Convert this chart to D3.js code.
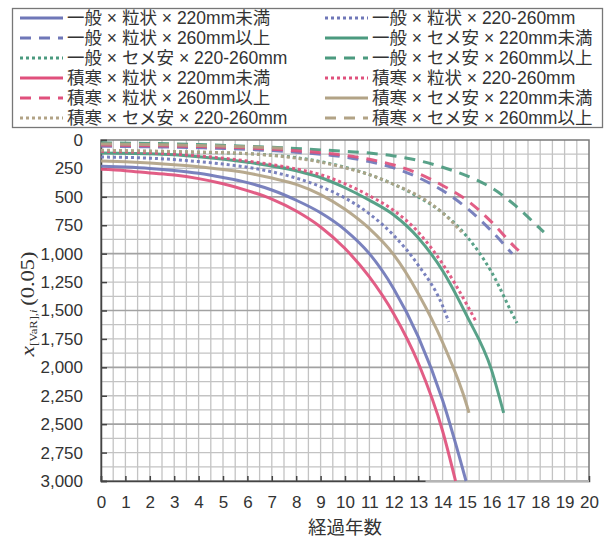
<!DOCTYPE html>
<html>
<head>
<meta charset="utf-8">
<script src="https://cdn.jsdelivr.net/npm/d3@7"></script>
<style>
  body { margin: 0; background: #fff; }
  svg { display: block; }
</style>
</head>
<body>
<svg id="chart" width="608" height="537"></svg>
<script>
// Elapsed years (x) and VaR values (y, drawn downward)
const yearTicks = d3.range(0, 21);
const valueTicks = d3.range(0, 3001, 250);

const seriesNames = [
  "一般×粒状×220mm未満", "一般×粒状×220-260mm",
  "一般×粒状×260mm以上", "一般×セメ安×220mm未満",
  "一般×セメ安×220-260mm", "一般×セメ安×260mm以上",
  "積寒×粒状×220mm未満", "積寒×粒状×220-260mm",
  "積寒×粒状×260mm以上", "積寒×セメ安×220mm未満",
  "積寒×セメ安×220-260mm", "積寒×セメ安×260mm以上"
];

// [year, value] pairs per series
const ippanRyu220 = [[0,230],[1,238],[2,250],[3,268],[4,293],[5,330],[6,375],[7,440],[8,530],[9,640],[10,790],[11,1000],[12,1310],[13,1730],[14,2290],[14.96,3000]];
const ippanRyu220to260 = [[0,150],[1,153],[2,160],[3,172],[4,190],[5,212],[6,240],[7,280],[8,335],[9,410],[10,510],[11,650],[12,840],[13,1100],[14,1460],[14.25,1600]];
const ippanRyu260 = [[0,55],[2,60],[4,68],[6,82],[8,108],[10,150],[11,190],[12,245],[13,330],[14,445],[15,600],[16,800],[16.85,1000]];
const ippanSeme220 = [[0,115],[2,122],[4,147],[6,195],[8,270],[9,330],[10,420],[11,530],[12,660],[13,860],[14,1150],[15,1550],[16,2020],[16.5,2400]];
const ippanSeme220to260 = [[0,95],[2,100],[4,108],[6,120],[7,133],[8,155],[9,190],[10,240],[11,305],[12,390],[13,500],[14,640],[15,850],[16,1160],[17,1590],[17.05,1610]];
const ippanSeme260 = [[0,25],[2,30],[4,40],[6,55],[8,75],[10,100],[11,115],[12,140],[13,180],[14,240],[15,315],[16,420],[17,580],[18,780],[18.15,810]];
const sekiRyu220 = [[0,258],[1,270],[2,290],[3,308],[4,340],[5,385],[6,445],[7,520],[8,625],[9,765],[10,955],[11,1205],[12,1530],[13,1960],[14,2560],[14.53,3000]];
const sekiRyu220to260 = [[0,100],[2,112],[4,140],[6,185],[8,255],[9,305],[10,385],[11,490],[12,620],[13,810],[14,1090],[15,1450],[15.4,1610]];
const sekiRyu260 = [[0,45],[2,50],[4,58],[6,70],[8,95],[10,135],[11,170],[12,220],[13,295],[14,400],[15,530],[16,720],[17,950],[17.2,990]];
const sekiSeme220 = [[0,185],[1,192],[2,203],[3,217],[4,235],[5,260],[6,290],[7,335],[8,390],[9,480],[10,610],[11,780],[12,1010],[13,1350],[14,1780],[15,2340],[15.08,2400]];
const sekiSeme220to260 = [[0,90],[2,97],[4,106],[6,120],[8,160],[9,195],[10,245],[11,305],[12,390],[13,490],[14,640],[14.78,810]];
const sekiSeme260 = [[0,35],[2,40],[4,48],[6,60],[7.5,72]];

const seriesData = [
  ippanRyu220, ippanRyu220to260, ippanRyu260,
  ippanSeme220, ippanSeme220to260, ippanSeme260,
  sekiRyu220, sekiRyu220to260, sekiRyu260,
  sekiSeme220, sekiSeme220to260, sekiSeme260
];

const blue = "#6f77b8", green = "#4b9a7f", pink = "#e0507c", tan = "#b2a386";
const seriesColors = [blue, blue, blue, green, green, green, pink, pink, pink, tan, tan, tan];
const dashStyles = ["none", "3,3", "11,8"];

const svg = d3.select("#chart");
const x = d3.scaleLinear().domain([0, 20]).range([101, 589]);
const y = d3.scaleLinear().domain([0, 3000]).range([140, 481]);

// grid
const grid = svg.append("g");
grid.selectAll("line.v").data(d3.range(0.5, 20, 0.5)).join("line")
  .attr("x1", d => x(d)).attr("x2", d => x(d))
  .attr("y1", y(0)).attr("y2", y(3000))
  .attr("stroke", "#c3c3c3").attr("stroke-width", 1.3);
grid.selectAll("line.h").data(d3.range(125, 3000, 125)).join("line")
  .attr("x1", x(0)).attr("x2", x(20))
  .attr("y1", d => y(d)).attr("y2", d => y(d))
  .attr("stroke", d => d % 500 === 0 ? "#a2a2a2" : "#c3c3c3")
  .attr("stroke-width", d => d % 500 === 0 ? 1.6 : 1.3);

// frame
svg.append("rect")
  .attr("x", x(0)).attr("y", y(0))
  .attr("width", x(20) - x(0)).attr("height", y(3000) - y(0))
  .attr("fill", "none").attr("stroke", "#7a7a7a").attr("stroke-width", 1.5);

// axes
const yAxis = svg.append("g").attr("transform", `translate(${x(0)},0)`)
  .call(d3.axisLeft(y).tickValues(valueTicks).tickSize(-6).tickPadding(18).tickFormat(d3.format(",")));
yAxis.select(".domain").attr("stroke", "#444").attr("stroke-width", 1.5);
yAxis.selectAll(".tick line").attr("stroke", "#444").attr("stroke-width", 1.5);
yAxis.selectAll("text").attr("fill", "#333")
  .style("font-family", "'Liberation Sans', Arial, sans-serif").style("font-size", "17px");

const xAxis = svg.append("g").attr("transform", `translate(0,${y(3000)})`)
  .call(d3.axisBottom(x).tickValues(yearTicks).tickSize(-5).tickPadding(15).tickFormat(d3.format("d")));
xAxis.select(".domain").attr("stroke", "#444").attr("stroke-width", 1.5);
xAxis.selectAll(".tick line")
  .attr("stroke", "#444").attr("stroke-width", 1.5)
  .attr("visibility", d => d > 13 ? "hidden" : null);
xAxis.selectAll("text").attr("fill", "#333")
  .style("font-family", "'Liberation Sans', Arial, sans-serif").style("font-size", "17px");
// lighter stretch of the base line on the right
svg.append("line")
  .attr("x1", x(13.3)).attr("x2", x(20))
  .attr("y1", y(3000)).attr("y2", y(3000))
  .attr("stroke", "#b5b5b5").attr("stroke-width", 2);

// curves
const line = d3.line().x(d => x(d[0])).y(d => y(d[1])).curve(d3.curveMonotoneX);
svg.append("g").selectAll("path").data(seriesData).join("path")
  .attr("d", line)
  .attr("fill", "none")
  .attr("stroke", (d, i) => seriesColors[i])
  .attr("stroke-width", 3)
  .attr("stroke-opacity", 0.92)
  .attr("stroke-dasharray", (d, i) => dashStyles[i % 3]);

// axis titles
svg.append("text")
  .attr("x", 345).attr("y", 533.5)
  .attr("text-anchor", "middle")
  .attr("fill", "#333")
  .style("font-family", "'Noto Sans CJK JP', sans-serif").style("font-size", "18.5px")
  .text("経過年数");

const yt = svg.append("text")
  .attr("transform", "translate(34,304) rotate(-90) scale(1.25,1)")
  .attr("text-anchor", "middle")
  .attr("fill", "#333")
  .style("font-family", "'Liberation Serif', 'DejaVu Serif', serif").style("font-size", "17px");
yt.append("tspan").style("font-style", "italic").style("font-size", "19px").text("x");
yt.append("tspan").attr("dy", 3).style("font-size", "10px").text("[VaR],");
yt.append("tspan").style("font-size", "10px").style("font-style", "italic").text("i");
yt.append("tspan").attr("dy", -3).attr("dx", 3).style("font-size", "18px").text("(0.05)");

// legend
const legend = svg.append("g");
legend.append("rect")
  .attr("x", 12.5).attr("y", 8.5).attr("width", 590).attr("height", 119)
  .attr("fill", "#fff").attr("stroke", "#777").attr("stroke-width", 1.3);
const colX = [20, 325];
const items = legend.selectAll("g.item").data(seriesNames).join("g")
  .attr("transform", (d, i) => `translate(${colX[i % 2]},${18 + Math.floor(i / 2) * 20})`);
items.append("line")
  .attr("x1", 0).attr("x2", 43).attr("y1", 0).attr("y2", 0)
  .attr("stroke", (d, i) => seriesColors[i])
  .attr("stroke-width", 3)
  .attr("stroke-dasharray", (d, i) => dashStyles[i % 3]);
// a space on each side of the multiplication sign
items.append("text")
  .attr("x", 47).attr("y", 0).attr("dy", "0.35em")
  .attr("fill", "#333")
  .style("font-family", "'Liberation Sans', 'Noto Sans CJK JP', sans-serif").style("font-size", "17.5px")
  .text(d => d.replace(/×/g, " × "));
</script>
</body>
</html>
